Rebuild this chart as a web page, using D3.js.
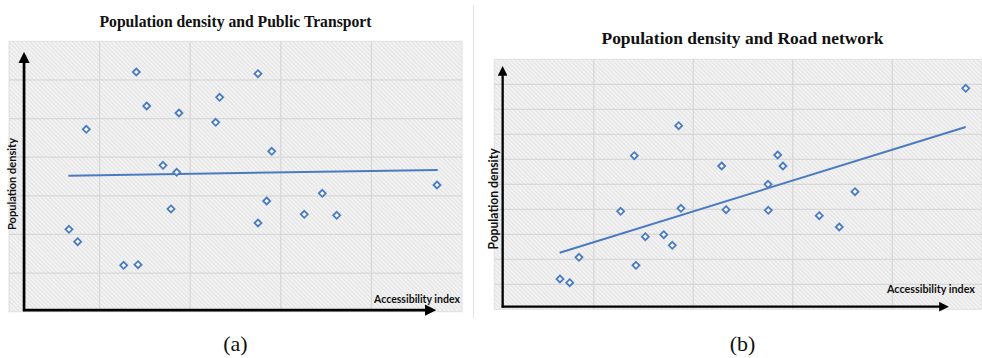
<!DOCTYPE html>
<html>
<head>
<meta charset="utf-8">
<script src="https://cdn.jsdelivr.net/npm/d3@7"></script>
<style>
  html, body { margin: 0; padding: 0; background: #ffffff; }
  svg { display: block; }
</style>
</head>
<body>
<svg id="chart" width="982" height="358"></svg>
<script>
// ---------- DATA ----------
// (a) Population density and Public Transport
const titleA = "Population density and Public Transport";
const captionA = "(a)";
const accessA = [0.662, 0.758, 0.853, 1.266, 1.424, 1.405, 1.520, 1.700, 1.788, 1.851, 1.876,
                 2.281, 2.325, 2.748, 2.748, 2.844, 2.900, 3.259, 3.458, 3.617, 4.724];
const densityA = [2.133, 1.812, 4.722, 1.201, 1.217, 6.205, 5.325, 3.790, 2.659, 3.609, 5.144,
                  4.903, 5.550, 6.161, 2.296, 2.866, 4.152, 2.521, 3.065, 2.495, 3.280];
const trendAx = [0.655, 4.732];
const trendAy = [3.52, 3.67];

// (b) Population density and Road network
const titleB = "Population density and Road network";
const captionB = "(b)";
const accessB = [0.660, 0.758, 0.851, 1.270, 1.407, 1.424, 1.518, 1.703, 1.789, 1.853, 1.876,
                 2.285, 2.329, 2.751, 2.754, 2.848, 2.901, 3.266, 3.467, 3.625, 4.738];
const densityB = [1.212, 1.064, 2.080, 3.920, 6.144, 1.760, 2.904, 2.984, 2.560, 7.344, 4.040,
                  5.732, 3.984, 5.000, 3.960, 6.172, 5.732, 3.744, 3.292, 4.704, 8.840];
const trendBx = [0.657, 4.738];
const trendBy = [2.264, 7.292];

const xLabel = "Accessibility index";
const yLabel = "Population density";

// ---------- DRAWING ----------
const W = 982;
const svg = d3.select("#chart");
const defs = svg.append("defs");
const pat = defs.append("pattern")
  .attr("id", "hatch").attr("patternUnits", "userSpaceOnUse")
  .attr("width", 3).attr("height", 3)
  .attr("patternTransform", "rotate(-45)");
pat.append("rect").attr("width", 3).attr("height", 3).attr("fill", "#f2f2f2");
pat.append("line").attr("x1", 0).attr("y1", 0).attr("x2", 0).attr("y2", 3)
  .attr("stroke", "#d9d9d9").attr("stroke-width", 1.2);

defs.append("marker").attr("id", "arrow")
  .attr("viewBox", "0 0 10 10").attr("refX", 4).attr("refY", 5)
  .attr("markerWidth", 4.2).attr("markerHeight", 4.2).attr("orient", "auto")
  .append("path").attr("d", "M0,0 L10,5 L0,10 Z").attr("fill", "#000");

const blue = "#4a7bc2";
const diamond = r => `M0,${-r}L${r},0L0,${r}L${-r},0Z`;

function panel(cfg) {
  const x = d3.scaleLinear().domain([0, 5]).range(cfg.xr);
  const y = d3.scaleLinear().domain([0, cfg.ymax]).range(cfg.yr);
  const g = svg.append("g");
  const k = cfg.k;
  const xRight = Math.min(x(5), W);

  // title
  g.append("text").attr("x", cfg.titleX).attr("y", cfg.titleY)
    .attr("text-anchor", "middle")
    .attr("font-family", "Liberation Serif, DejaVu Serif, serif")
    .attr("font-weight", "bold").attr("font-size", 16.5)
    .attr("textLength", cfg.titleLen).attr("lengthAdjust", "spacingAndGlyphs")
    .attr("fill", "#111").text(cfg.title);

  // hatched background
  g.append("rect").attr("x", x(0)).attr("y", y(cfg.ymax))
    .attr("width", xRight - x(0)).attr("height", y(0) - y(cfg.ymax))
    .attr("fill", "url(#hatch)").attr("stroke", "#e0e0e0").attr("stroke-width", 1);

  // grid lines
  g.append("g").selectAll("line").data(d3.range(1, 5)).join("line")
    .attr("x1", d => x(d)).attr("x2", d => x(d))
    .attr("y1", y(cfg.ymax)).attr("y2", y(0))
    .attr("stroke", "#d8d8d8").attr("stroke-width", 1.3);
  g.append("g").selectAll("line").data(d3.range(1, cfg.ymax)).join("line")
    .attr("x1", x(0)).attr("x2", xRight)
    .attr("y1", d => y(d)).attr("y2", d => y(d))
    .attr("stroke", "#d8d8d8").attr("stroke-width", 1.3);

  // axes arrows
  const ax0 = x(cfg.axisX), ay0 = y(cfg.axisY);
  g.append("line").attr("x1", ax0).attr("y1", ay0 + 1).attr("x2", ax0).attr("y2", y(cfg.yArrowTop))
    .attr("stroke", "#000").attr("stroke-width", cfg.axisW).attr("marker-end", "url(#arrow)");
  g.append("line").attr("x1", ax0 - 1).attr("y1", ay0).attr("x2", x(cfg.xArrowEnd)).attr("y2", ay0)
    .attr("stroke", "#000").attr("stroke-width", cfg.axisW).attr("marker-end", "url(#arrow)");

  // axis labels
  g.append("text").attr("x", cfg.xLabX).attr("y", cfg.xLabY)
    .attr("font-family", "Lato, Open Sans, sans-serif").attr("font-weight", "bold")
    .attr("font-size", cfg.xLabSize).attr("fill", "#111")
    .attr("textLength", cfg.xLabLen).attr("lengthAdjust", "spacingAndGlyphs").text(xLabel);
  g.append("text")
    .attr("transform", `translate(${cfg.yLabX},${cfg.yLabY}) rotate(-90)`)
    .attr("text-anchor", "middle")
    .attr("font-family", "Lato, Open Sans, sans-serif").attr("font-weight", "bold")
    .attr("font-size", 11.5 * k).attr("fill", "#111")
    .attr("textLength", 92 * k).attr("lengthAdjust", "spacingAndGlyphs").text(yLabel);

  // trend line
  g.append("line")
    .attr("x1", x(cfg.tx[0])).attr("y1", y(cfg.ty[0]))
    .attr("x2", x(cfg.tx[1])).attr("y2", y(cfg.ty[1]))
    .attr("stroke", blue).attr("stroke-width", 2);

  // points
  g.append("g").selectAll("path").data(cfg.xs.map((v, i) => [v, cfg.ys[i]])).join("path")
    .attr("transform", d => `translate(${x(d[0])},${y(d[1])})`)
    .attr("d", diamond(3.5)).attr("fill", "#fff").attr("fill-opacity", 0.7)
    .attr("stroke", blue).attr("stroke-width", 1.8);

  // caption
  g.append("text").attr("x", cfg.capX).attr("y", 351)
    .attr("text-anchor", "middle")
    .attr("font-family", "Liberation Serif, Times New Roman, serif")
    .attr("font-size", 22).attr("fill", "#111").text(cfg.caption);
}

panel({
  title: titleA, caption: captionA, xs: accessA, ys: densityA, tx: trendAx, ty: trendAy,
  xr: [9, 462], yr: [311.7, 41.3], ymax: 7, k: 1,
  titleX: 235.5, titleY: 27, titleLen: 272,
  axisX: 0.166, axisY: 0.04, yArrowTop: 6.55, xArrowEnd: 4.64, axisW: 2.7,
  xLabX: 374, xLabY: 302.5, xLabLen: 86, xLabSize: 11.5,
  yLabX: 16, yLabY: 184, capX: 235.5
});

panel({
  title: titleB, caption: captionB, xs: accessB, ys: densityB, tx: trendBx, ty: trendBy,
  xr: [494.3, 991.8], yr: [309.3, 59.3], ymax: 10, k: 1.1,
  titleX: 742.5, titleY: 43.5, titleLen: 282,
  axisX: 0.084, axisY: 0.105, yArrowTop: 9.5, xArrowEnd: 4.51, axisW: 2.3,
  xLabX: 887, xLabY: 292.5, xLabLen: 88, xLabSize: 11.5,
  yLabX: 498, yLabY: 199, capX: 742.5
});

// separator between panels
svg.append("line").attr("x1", 473.5).attr("x2", 473.5).attr("y1", 5).attr("y2", 318)
  .attr("stroke", "#e4e4e4").attr("stroke-width", 1);
</script>
</body>
</html>
